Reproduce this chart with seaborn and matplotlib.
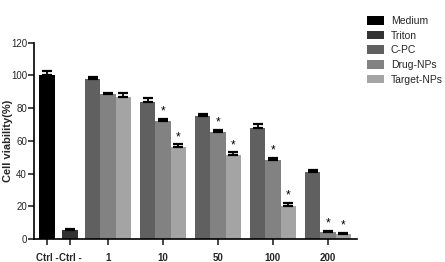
import numpy as np
import pandas as pd
import matplotlib
matplotlib.use("Agg")
import matplotlib.pyplot as plt
import seaborn as sns

# ---- data ----
series = ["Medium", "Triton", "C-PC", "Drug-NPs", "Target-NPs"]
colors = ["#000000", "#333333", "#606060", "#828282", "#a4a4a4"]
ctrl_values = [100.0, 5.5]        # Medium, Triton
ctrl_errors = [3.0, 0.6]
doses = ["1", "10", "50", "100", "200"]
cpc_values = [98.0, 84.0, 75.0, 68.0, 41.0]
cpc_errors = [1.0, 2.0, 1.2, 2.0, 1.2]
drug_values = [88.5, 72.0, 65.5, 48.5, 4.0]
drug_errors = [1.0, 1.5, 1.2, 1.0, 1.0]
target_values = [87.0, 56.0, 51.5, 20.0, 3.0]
target_errors = [2.0, 1.8, 1.5, 2.0, 0.8]
star_drug = [False, True, True, True, True]
star_target = [False, True, True, True, True]
tick_labels = ["Ctrl -", "Ctrl -"] + doses

# ---- layout (positions) ----
w = 0.28
ctrl_pos = [0.89, 1.31]
group_centers = [2.0 + i for i in range(len(doses))]

rows = []
for s, p, v, e in zip(series[:2], ctrl_pos, ctrl_values, ctrl_errors):
    rows.append(dict(series=s, pos=p, value=v, err=e, star=False))
for gc, cv, ce, dv, de, tv, te, sd, st in zip(group_centers, cpc_values, cpc_errors,
                                              drug_values, drug_errors, target_values,
                                              target_errors, star_drug, star_target):
    rows.append(dict(series="C-PC", pos=round(gc - w, 4), value=cv, err=ce, star=False))
    rows.append(dict(series="Drug-NPs", pos=round(gc, 4), value=dv, err=de, star=sd))
    rows.append(dict(series="Target-NPs", pos=round(gc + w, 4), value=tv, err=te, star=st))
df = pd.DataFrame(rows)

sns.set_style("ticks")
plt.rcParams["font.family"] = ["Liberation Sans", "DejaVu Sans"]

fig = plt.figure(figsize=(4.45, 2.62), dpi=100)
ax = fig.add_axes([0.0764, 0.088, 0.726, 0.749])

sns.barplot(data=df, x="pos", y="value", hue="series", hue_order=series,
            palette=dict(zip(series, colors)), native_scale=True, dodge=False,
            width=1.0, errorbar=None, saturation=1, linewidth=0, ax=ax)

ax.errorbar(df["pos"], df["value"], yerr=[np.zeros(len(df)), df["err"]],
            fmt="none", ecolor="black", elinewidth=1.3, capsize=3.5, capthick=1.6)
for _, r in df[df["star"]].iterrows():
    ax.text(r["pos"], r["value"] + r["err"] + 0.8, "*", ha="center", va="bottom",
            fontsize=8.5, color="black")

ax.set_xlim(0.655, 6.53)
ax.set_ylim(0, 120)
ax.set_yticks([0, 20, 40, 60, 80, 100, 120])
ax.set_xticks(ctrl_pos + group_centers)
ax.set_xticklabels(tick_labels, fontweight="bold", fontsize=7)
ax.tick_params(axis="y", labelsize=7, length=4, width=1.2, pad=1)
ax.tick_params(axis="x", length=4, width=1.2, pad=6)
ax.set_xlabel("")
ax.set_ylabel("Cell viability(%)", fontweight="bold", fontsize=8)
ax.yaxis.set_label_coords(-0.064, 0.5)
for sp in ["left", "bottom"]:
    ax.spines[sp].set_linewidth(1.2)
    ax.spines[sp].set_color("black")
sns.despine(ax=ax)

handles, labels = ax.get_legend_handles_labels()
if ax.get_legend() is not None:
    ax.get_legend().remove()
fig.legend(handles, labels, loc="upper left", bbox_to_anchor=(0.815, 0.955),
           frameon=False, fontsize=7.5, handlelength=1.6, handleheight=0.9,
           labelspacing=0.45, handletextpad=0.7, borderaxespad=0)

fig.savefig("out.png", dpi=100)
